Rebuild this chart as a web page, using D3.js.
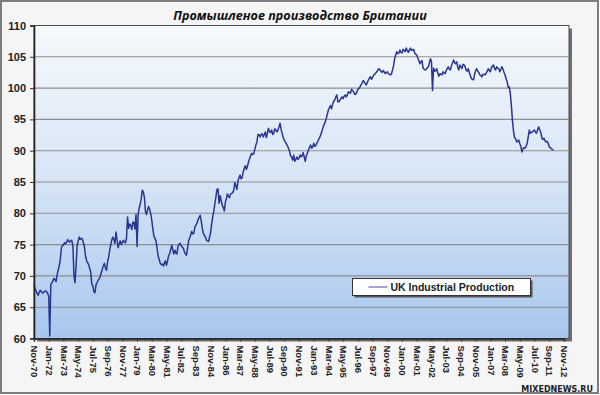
<!DOCTYPE html>
<html><head><meta charset="utf-8">
<script src="https://cdn.jsdelivr.net/npm/d3@7"></script>
<style>html,body{margin:0;padding:0;background:#fff;} svg{display:block;}</style>
</head><body>
<svg id="chart" width="600" height="395"></svg>
<script>
// ---------- DATA (monthly index, starting Nov-1970) ----------
const chartTitle = "Промышленое производство Британии";
const seriesName = "UK Industrial Production";
const watermark = "MIXEDNEWS.RU";
const startYear = 1970, startMonth = 10; // November 1970

const ip1970s = [
  68.6, 68.0,
  67.6, 67.2, 66.9, 67.4, 67.7, 67.5, 67.3, 67.3, 67.5, 67.6, 67.5, 67.2,
  66.8, 60.4, 68.6, 68.9, 69.2, 69.6, 69.4, 69.1, 70.2, 70.9, 71.6, 72.6,
  74.5, 74.9, 74.9, 75.3, 75.1, 75.4, 75.8, 75.5, 75.4, 75.7, 75.6, 74.7,
  70.0, 68.9, 71.5, 74.7, 75.6, 76.2, 75.8, 76.0, 75.9, 75.3, 74.6, 73.2,
  72.4, 72.1, 71.8, 71.2, 70.6, 68.7, 68.4, 67.5, 67.3, 68.6, 68.9, 69.3,
  69.5, 69.9, 70.5, 71.1, 71.6, 72.0, 71.2, 70.9, 72.3, 73.0, 74.1, 75.0,
  75.8, 76.2, 75.8, 75.2, 77.0, 75.8, 74.5, 75.1, 75.6, 75.0, 75.3, 75.7,
  75.4, 75.3, 76.0, 79.4, 77.6, 78.3, 78.1, 77.4, 78.6, 78.5, 77.5, 79.8,
  74.7, 79.8, 80.8, 81.4, 82.3, 83.7, 83.4, 82.6, 80.3, 79.8, 80.5, 81.1
];
const ip1980s = [
  80.6, 79.9, 78.9, 77.6, 76.4, 76.0, 75.6, 74.5, 73.2, 72.7, 72.0, 71.8,
  71.9, 71.6, 72.0, 72.4, 71.7, 72.4, 73.2, 73.5, 74.2, 74.9, 74.2, 73.5,
  74.1, 73.6, 73.5, 74.8, 75.0, 75.2, 74.8, 74.6, 74.4, 73.9, 73.5, 73.3,
  74.4, 75.6, 76.0, 76.5, 77.1, 76.7, 76.8, 77.8, 78.1, 78.4, 79.0, 79.3,
  79.7, 78.8, 77.7, 76.8, 76.5, 76.2, 75.7, 75.6, 75.5, 76.2, 77.0, 78.4,
  79.5, 80.4, 81.5, 82.6, 83.8, 83.9, 81.6, 82.8, 82.0, 81.3, 80.9, 80.4,
  81.8, 82.4, 83.1, 82.7, 82.5, 83.1, 83.2, 83.3, 83.7, 84.9, 84.4, 83.8,
  85.2, 85.7, 86.1, 85.5, 85.7, 86.6, 87.2, 87.6, 87.0, 87.5, 88.2, 88.7,
  89.2, 89.6, 89.4, 89.5, 90.2, 90.9, 91.4, 92.6, 92.6, 92.2, 92.6, 92.7,
  92.2, 92.6, 93.0, 92.1, 92.8, 93.6, 93.0, 92.9, 93.3, 92.6, 92.8, 93.5
];
const ip1990s = [
  93.3, 93.0, 93.3, 93.8, 94.4, 93.4, 92.8, 92.1, 91.7, 91.4, 91.1, 90.8,
  90.4, 89.9, 89.2, 89.0, 88.5, 89.3, 88.3, 88.6, 89.0, 88.6, 88.8, 89.3,
  89.0, 89.2, 89.7, 89.0, 88.3, 89.2, 89.6, 90.1, 90.5, 90.9, 90.4, 90.6,
  91.2, 90.7, 90.8, 91.2, 91.5, 91.9, 92.2, 92.7, 93.2, 93.8, 94.2, 94.6,
  95.2, 95.9, 96.5, 96.9, 97.2, 96.7, 97.4, 97.9, 98.1, 98.6, 98.9, 97.8,
  97.8, 98.1, 98.4, 98.6, 98.3, 98.7, 98.9, 98.6, 98.9, 99.4, 99.3, 99.2,
  99.8, 99.6, 99.4, 99.0, 99.0, 99.4, 99.8, 99.9, 100.2, 100.5, 100.8, 101.2,
  101.0, 100.7, 100.5, 100.9, 101.3, 101.6, 101.8, 101.4, 101.7, 102.1, 102.2, 102.4,
  102.6, 102.9, 103.1, 102.9, 102.7, 102.5, 102.8, 102.6, 102.3, 102.5, 102.6, 102.3,
  102.2, 102.1, 102.3, 102.9, 103.6, 104.7, 105.3, 105.8, 105.5, 105.6, 106.1, 105.7
];
const ip2000s = [
  105.6, 106.2, 106.0, 105.8, 106.4, 106.0, 105.7, 106.1, 106.4, 106.0, 106.1, 106.2,
  105.6, 105.4, 105.3, 104.8, 104.4, 103.9, 104.2, 104.4, 103.2, 103.0, 102.9, 103.0,
  103.2, 103.4, 104.0, 104.7, 104.3, 99.6, 103.2, 102.7, 102.8, 103.1, 102.4, 101.9,
  102.3, 102.2, 102.1, 102.6, 102.4, 102.3, 102.8, 103.1, 103.4, 103.0, 102.9, 103.6,
  104.0, 104.5, 104.1, 103.9, 104.2, 103.3, 102.9, 103.7, 103.4, 103.1, 103.8, 103.7,
  103.4, 102.8, 102.7, 103.1, 102.5, 102.0, 101.5, 101.4, 101.3, 102.2, 102.8, 103.1,
  102.7, 102.5, 102.1, 102.0, 101.8, 102.2, 102.2, 102.1, 102.4, 102.7, 103.1, 102.8,
  102.6, 103.3, 103.5, 103.7, 103.1, 102.9, 103.4, 103.2, 103.1, 102.6, 103.0, 103.4,
  103.0, 102.5, 102.1, 101.5, 101.0, 100.1, 100.2, 99.1, 97.1, 94.8, 93.1, 92.1,
  91.9, 91.4, 91.5, 91.7, 91.1, 90.7, 89.8, 90.3, 90.5, 90.4, 90.7, 91.2
];
const ip2010s = [
  92.2, 93.3, 92.8, 92.9, 93.0, 93.2, 93.3, 92.9, 92.8, 93.4, 93.8, 93.3,
  92.9, 92.0, 91.8, 92.0, 91.6, 91.4, 91.5, 91.2, 90.6, 90.5, 90.3, 90.2,
  90.1
];
const tickLabels = ["Nov-70","Jan-72","Mar-73","May-74","Jul-75","Sep-76","Nov-77","Jan-79",
  "Mar-80","May-81","Jul-82","Sep-83","Nov-84","Jan-86","Mar-87","May-88","Jul-89","Sep-90",
  "Nov-91","Jan-93","Mar-94","May-95","Jul-96","Sep-97","Nov-98","Jan-00","Mar-01","May-02",
  "Jul-03","Sep-04","Nov-05","Jan-07","Mar-08","May-09","Jul-10","Sep-11","Nov-12"];
const yTicks = [60, 65, 70, 75, 80, 85, 90, 95, 100, 105, 110];

// ---------- BUILD ----------
const values = [].concat(ip1970s, ip1980s, ip1990s, ip2000s, ip2010s);
const data = values.map((v, i) => ({ date: new Date(startYear, startMonth + i, 1), value: v }));
const parse = d3.timeParse("%b-%y");
const tickDates = tickLabels.map(parse);

const svg = d3.select("#chart");
const P = { left: 34, top: 25.5, right: 569, bottom: 338.5 };

// outer background
svg.append("rect").attr("x", 1).attr("y", 1).attr("width", 597).attr("height", 392)
  .attr("fill", "#f5f5f5").attr("stroke", "#7d7d7d").attr("stroke-width", 2);

const defs = svg.append("defs");
const grad = defs.append("linearGradient").attr("id", "bg")
  .attr("x1", 0).attr("y1", 0).attr("x2", 0).attr("y2", 1);
grad.append("stop").attr("offset", "0%").attr("stop-color", "#f6f9fc");
grad.append("stop").attr("offset", "50%").attr("stop-color", "#d6e4f5");
grad.append("stop").attr("offset", "100%").attr("stop-color", "#a8c6ee");

// plot shadow + area
svg.append("rect").attr("x", P.left + 3).attr("y", P.top + 3)
  .attr("width", P.right - P.left).attr("height", P.bottom - P.top).attr("fill", "#6f6f6f");
svg.append("rect").attr("x", P.left).attr("y", P.top)
  .attr("width", P.right - P.left).attr("height", P.bottom - P.top)
  .attr("fill", "url(#bg)").attr("stroke", "#4a4a4a").attr("stroke-width", 1);

const x = d3.scaleTime().domain([tickDates[0], tickDates[tickDates.length - 1]]).range([34, 564]);
const y = d3.scaleLinear().domain([60, 110]).range([P.bottom, P.top]);

// gridlines
svg.append("g").selectAll("line").data(yTicks.filter(t => t > 60 && t < 110)).join("line")
  .attr("x1", P.left).attr("x2", P.right)
  .attr("y1", d => y(d)).attr("y2", d => y(d))
  .attr("stroke", "#8e8e8e").attr("stroke-width", 1.1);

// line
const line = d3.line().x(d => x(d.date)).y(d => y(d.value));
svg.append("path").datum(data).attr("d", line)
  .attr("fill", "none").attr("stroke", "#2a3592").attr("stroke-width", 1.5)
  .attr("stroke-linejoin", "round");

// axes
const yAxis = svg.append("g").attr("transform", `translate(${P.left},0)`)
  .call(d3.axisLeft(y).tickValues(yTicks).tickSize(4).tickPadding(4).tickFormat(d3.format("d")));
yAxis.select(".domain").attr("stroke", "#222").attr("stroke-width", 1.6);
yAxis.selectAll(".tick line").attr("stroke", "#333");
yAxis.selectAll("text").attr("font-family", "'Liberation Sans', Arial, sans-serif")
  .attr("font-weight", "bold").attr("font-size", 11).attr("fill", "#222");

const xAxis = svg.append("g").attr("transform", `translate(0,${P.bottom})`)
  .call(d3.axisBottom(x).tickValues(tickDates).tickSize(3).tickFormat((d, i) => tickLabels[i]));
xAxis.select(".domain").attr("stroke", "#222").attr("stroke-width", 1.6);
xAxis.selectAll(".tick line").attr("stroke", "#333");
xAxis.selectAll("text")
  .attr("font-family", "'Liberation Sans', Arial, sans-serif")
  .attr("font-weight", "bold").attr("font-size", 9.5).attr("fill", "#222")
  .attr("transform", "rotate(90)").attr("x", 7).attr("y", 0).attr("dy", "0.35em")
  .style("text-anchor", "start");

// title
svg.append("text").attr("x", 300).attr("y", 20).attr("text-anchor", "middle")
  .attr("font-family", "'Open Sans', 'Noto Sans', sans-serif")
  .attr("font-style", "italic").attr("font-weight", "bold").attr("font-size", 12.6)
  .attr("fill", "#111").text(chartTitle);

// legend
const lg = svg.append("g").attr("transform", "translate(352.5,278.5)");
lg.append("rect").attr("x", 2).attr("y", 2).attr("width", 178).attr("height", 17).attr("fill", "#555");
lg.append("rect").attr("width", 178).attr("height", 17).attr("fill", "#fff")
  .attr("stroke", "#333").attr("stroke-width", 1);
lg.append("line").attr("x1", 16).attr("x2", 35).attr("y1", 8.5).attr("y2", 8.5)
  .attr("stroke", "#8a80c4").attr("stroke-width", 1.5);
lg.append("text").attr("x", 38).attr("y", 12.5)
  .attr("font-family", "'Liberation Sans', Arial, sans-serif")
  .attr("font-weight", "bold").attr("font-size", 10.5).attr("fill", "#222").text(seriesName);

// watermark
svg.append("text").attr("x", 593).attr("y", 391.5).attr("text-anchor", "end")
  .attr("font-family", "'DejaVu Sans', sans-serif").attr("font-weight", "bold")
  .attr("font-size", 8).attr("fill", "#222").text(watermark);
</script>
</body></html>
